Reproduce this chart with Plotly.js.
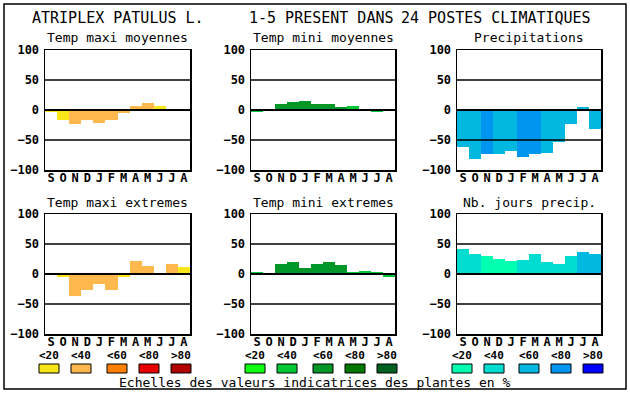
<!DOCTYPE html>
<html>
<head>
<meta charset="utf-8">
<script src="https://cdn.plot.ly/plotly-3.0.1.min.js"></script>
<style>html,body{margin:0;padding:0;background:#fff;}#chart{width:630px;height:394px;}</style>
</head>
<body>
<div id="chart"></div>
<script>
// ---- data ----
const months = ["S","O","N","D","J","F","M","A","M","J","J","A"];
const yTicks = [-100, -50, 0, 50, 100];
const classLabels = ["<20","<40","<60","<80",">80"];
const warmColors = ["#f8e618","#ffb84d","#ff8000","#e80000","#b00000"];
const greenColors = ["#10ff10","#00c832","#009628","#007800","#006020"];
const blueColors = ["#00ffb0","#00dcd0","#00b8e0","#0096f0","#0000ff"];

const tmaxMoyValues = [-3, -17, -24, -17, -22, -17, -5, 7, 12, 7, 0, -2];
const tmaxMoyClass  = [1, 1, 2, 2, 2, 2, 2, 2, 2, 1, 1, 2];
const tminMoyValues = [-3, -2, 10.5, 14, 15.5, 10.5, 10.5, 5.5, 7, -2, -4, -2];
const tminMoyClass  = [2, 3, 3, 3, 3, 3, 3, 3, 2, 3, 2, 3];
const precValues    = [-61, -81, -73, -73, -68, -78, -73, -71, -53, -23, 5, -31];
const precClass     = [3, 3, 4, 3, 3, 4, 4, 3, 3, 3, 3, 3];
const tmaxExtValues = [2, -5.5, -36, -27, -17, -26, -5.5, 21, 14, 0, 16, 12];
const tmaxExtClass  = [1, 1, 2, 2, 2, 2, 1, 2, 2, 2, 2, 1];
const tminExtValues = [3.5, 1.7, 16.7, 20, 10.5, 16.7, 20, 15.5, 3.5, 5, 3.5, -4.5];
const tminExtClass  = [2, 2, 3, 3, 3, 3, 3, 3, 2, 2, 2, 2];
const joursValues   = [42, 34, 30.5, 25.5, 22, 24, 34, 20.5, 17, 30.5, 37, 34];
const joursClass    = [2, 2, 1, 1, 1, 2, 2, 2, 2, 2, 3, 3];

const panelTitles = ["Temp maxi moyennes","Temp mini moyennes","Precipitations",
                     "Temp maxi extremes","Temp mini extremes","Nb. jours precip."];
const mainTitleParts = ["ATRIPLEX PATULUS L.","1-5 PRESENT DANS","24 POSTES CLIMATIQUES"];
const footerText = "Echelles des valeurs indicatrices des plantes en %";

// ---- layout helpers ----
const W = 630, H = 394;
const px = x => x / W;
const py = y => 1 - y / H;
const MONO = "DejaVu Sans Mono, Liberation Mono, monospace";

const colsPx = [[45,190],[251,395],[457,601]];
const rowsPx = [[50,170],[214,334]];

const panels = [
  {v: tmaxMoyValues, c: tmaxMoyClass, pal: warmColors},
  {v: tminMoyValues, c: tminMoyClass, pal: greenColors},
  {v: precValues,    c: precClass,    pal: blueColors},
  {v: tmaxExtValues, c: tmaxExtClass, pal: warmColors},
  {v: tminExtValues, c: tminExtClass, pal: greenColors},
  {v: joursValues,   c: joursClass,   pal: blueColors}
];

const xIdx = months.map((m,i)=>i);
const traces = [];
const layout = {
  width: W, height: H,
  margin: {l:0,r:0,t:0,b:0},
  paper_bgcolor: "#fff", plot_bgcolor: "#fff",
  showlegend: false,
  bargap: 0,
  font: {family: MONO, color: "#000"},
  shapes: [], annotations: []
};

panels.forEach((p, k) => {
  const n = k + 1;
  const xa = "x" + (n === 1 ? "" : n), ya = "y" + (n === 1 ? "" : n);
  const col = colsPx[k % 3], row = rowsPx[Math.floor(k / 3)];
  traces.push({
    type: "bar", x: xIdx, y: p.v, xaxis: xa, yaxis: ya,
    marker: {color: p.c.map(ci => p.pal[ci - 1]), line: {width: 0}},
    hoverinfo: "skip"
  });
  const xKey = "xaxis" + (n === 1 ? "" : n), yKey = "yaxis" + (n === 1 ? "" : n);
  layout[xKey] = {
    domain: [px(col[0]), px(col[1])], anchor: ya,
    range: [-0.5, 11.5], fixedrange: true,
    tickvals: xIdx, ticktext: months, ticks: "", ticklabelstandoff: -4,
    tickfont: {family: MONO, size: 12, weight: "bold", color: "#000"},
    showgrid: false, zeroline: false,
    showline: true, mirror: true, linecolor: "#000", linewidth: 1.5
  };
  layout[yKey] = {
    domain: [py(row[1]), py(row[0])], anchor: xa,
    range: [-100, 100], fixedrange: true,
    tickvals: yTicks, ticks: "", ticklabelstandoff: 2,
    tickfont: {family: MONO, size: 12, weight: "bold", color: "#000"},
    showgrid: false, zeroline: false,
    showline: true, mirror: true, linecolor: "#000", linewidth: 1.5
  };
  [-50, 0, 50].forEach(v => {
    layout.shapes.push({type: "line", layer: "above", xref: xa + " domain", yref: ya,
      x0: 0, x1: 1, y0: v, y1: v, line: {color: "#000", width: v === 0 ? 1.8 : 1.4}});
  });
  layout.annotations.push({
    xref: "paper", yref: "paper", x: px((col[0]+col[1])/2), y: py(row[0] - 12),
    text: panelTitles[k], showarrow: false, xanchor: "center", yanchor: "middle",
    font: {family: MONO, size: 13, color: "#000"}
  });
});

// main title
[[30, mainTitleParts[0]], [247, mainTitleParts[1]], [399, mainTitleParts[2]]].forEach(([x, t]) => {
  layout.annotations.push({xref: "paper", yref: "paper", x: px(x), y: py(18), text: t,
    showarrow: false, xanchor: "left", yanchor: "middle",
    font: {family: MONO, size: 15, color: "#000"}});
});

// legends
const legendSets = [
  {xs: [39,71,107,139,171], pal: warmColors},
  {xs: [245,277,313,345,377], pal: greenColors},
  {xs: [452,484,519,551,583], pal: blueColors}
];
legendSets.forEach(s => {
  s.xs.forEach((x, i) => {
    layout.shapes.push({type: "rect", xref: "paper", yref: "paper",
      x0: px(x), x1: px(x + 20), y0: py(373), y1: py(364),
      fillcolor: s.pal[i], line: {color: "#000", width: 1}});
    layout.annotations.push({xref: "paper", yref: "paper", x: px(x + 10), y: py(355),
      text: classLabels[i].replace("<","&lt;").replace(">","&gt;"), showarrow: false,
      xanchor: "center", yanchor: "middle",
      font: {family: MONO, size: 11, weight: "bold", color: "#000"}});
  });
});

layout.annotations.push({xref: "paper", yref: "paper", x: px(315), y: py(382),
  text: footerText, showarrow: false, xanchor: "center", yanchor: "middle",
  font: {family: MONO, size: 13, color: "#000"}});

// outer frame
layout.shapes.push({type: "rect", xref: "paper", yref: "paper",
  x0: px(4), x1: px(626), y0: py(389), y1: py(4),
  line: {color: "#000", width: 1.5}, fillcolor: "rgba(0,0,0,0)"});

Plotly.newPlot("chart", traces, layout, {staticPlot: true, displayModeBar: false});
</script>
</body>
</html>
